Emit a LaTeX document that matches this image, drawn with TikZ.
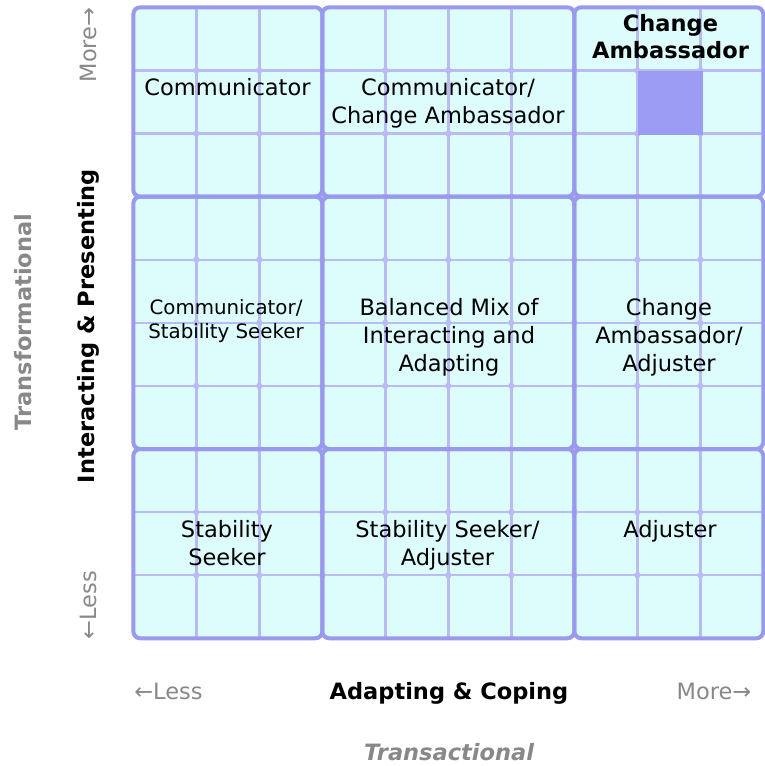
\documentclass[tikz,border=0pt]{standalone}
\usepackage{fontspec}
\setmainfont{DejaVu Sans}
\definecolor{cellfill}{HTML}{DDFDFD}
\definecolor{majorc}{HTML}{9999EE}
\definecolor{minorc}{HTML}{BBBBF3}
\definecolor{hlc}{HTML}{9C9CF4}
\definecolor{axgrayc}{HTML}{888888}
\begin{document}
\begin{tikzpicture}[x=1pt,y=-1pt,
  block/.style={draw=majorc,line width=4pt,rounded corners=7pt},
  minorline/.style={draw=minorc,line width=2.4pt},
  minordot/.style={fill=minorc},
  cell/.style={font=\fontsize{22.5}{28}\selectfont,align=center,inner sep=0pt,anchor=base},
  smallcell/.style={font=\fontsize{19.8}{23.5}\selectfont,align=center,inner sep=0pt,anchor=base},
  boldcell/.style={font=\bfseries\fontsize{22.5}{26.5}\selectfont,align=center,inner sep=0pt,anchor=base},
  axgray/.style={font=\fontsize{22.5}{28}\selectfont,text=axgrayc,inner sep=0pt,anchor=base},
  axbold/.style={font=\bfseries\fontsize{22.5}{28}\selectfont,inner sep=0pt,anchor=base},
  axtitle/.style={font=\bfseries\fontsize{22.5}{28}\selectfont,text=axgrayc,inner sep=0pt,anchor=base}]
\useasboundingbox (0,0) rectangle (765,766);
% background of the grid
\fill[cellfill] (133.3,7.3) rectangle (763.3,638.3);
% minor grid lines
\foreach \i in {1,2,4,5,6,8,9}{
  \draw[minorline] ({133.3+\i*63},7.3) -- ({133.3+\i*63},638.3);
  \draw[minorline] (133.3,{7.3+\i*63.1}) -- (763.3,{7.3+\i*63.1});
}
\foreach \i in {1,...,9}{
  \foreach \j in {1,...,9}{
    \fill[minordot] ({133.3+\i*63},{7.3+\j*63.1}) circle (3.2pt);
  }
}
% highlighted cell
\fill[hlc] (637.7,71) rectangle (703.3,135);
% major blocks
\draw[block] (133.3,7.3) rectangle (322.3,196.6);
\draw[block] (322.3,7.3) rectangle (574.3,196.6);
\draw[block] (574.3,7.3) rectangle (763.3,196.6);
\draw[block] (133.3,196.6) rectangle (322.3,449);
\draw[block] (322.3,196.6) rectangle (574.3,449);
\draw[block] (574.3,196.6) rectangle (763.3,449);
\draw[block] (133.3,449) rectangle (322.3,638.3);
\draw[block] (322.3,449) rectangle (574.3,638.3);
\draw[block] (574.3,449) rectangle (763.3,638.3);
% cell texts (anchor base = baseline of the last line)
\node[boldcell] (ca) at (670.5,58) {Change\\Ambassador};
\node[cell] (comm) at (227.5,95) {Communicator};
\node[cell] (commca) at (448,123) {Communicator/\\Change Ambassador};
\node[smallcell] (commss) at (226,338) {Communicator/\\Stability Seeker};
\node[cell] (bal) at (449,371) {Balanced Mix of\\Interacting and\\Adapting};
\node[cell] (caadj) at (669,371) {Change\\Ambassador/\\Adjuster};
\node[cell] (ss) at (227,565) {Stability\\Seeker};
\node[cell] (ssadj) at (447.5,565) {Stability Seeker/\\Adjuster};
\node[cell] (adj) at (670,537) {Adjuster};
% axis labels
\node[axgray] (xless) at (168.5,699) {←Less};
\node[axbold] (xlab) at (449,699) {Adapting \& Coping};
\node[axgray] (xmore) at (714,699) {More→};
\node[axtitle,font=\bfseries\itshape\fontsize{22.5}{28}\selectfont] (xtitle) at (449,760) {Transactional};
\node[axgray,rotate=90] (ymore) at (96,45) {More→};
\node[axgray,rotate=90] (yless) at (96,605) {←Less};
\node[axbold,rotate=90] (ylab) at (94,326) {Interacting \& Presenting};
\node[axtitle,rotate=90] (ytitle) at (31,322) {Transformational};
\end{tikzpicture}
\end{document}
